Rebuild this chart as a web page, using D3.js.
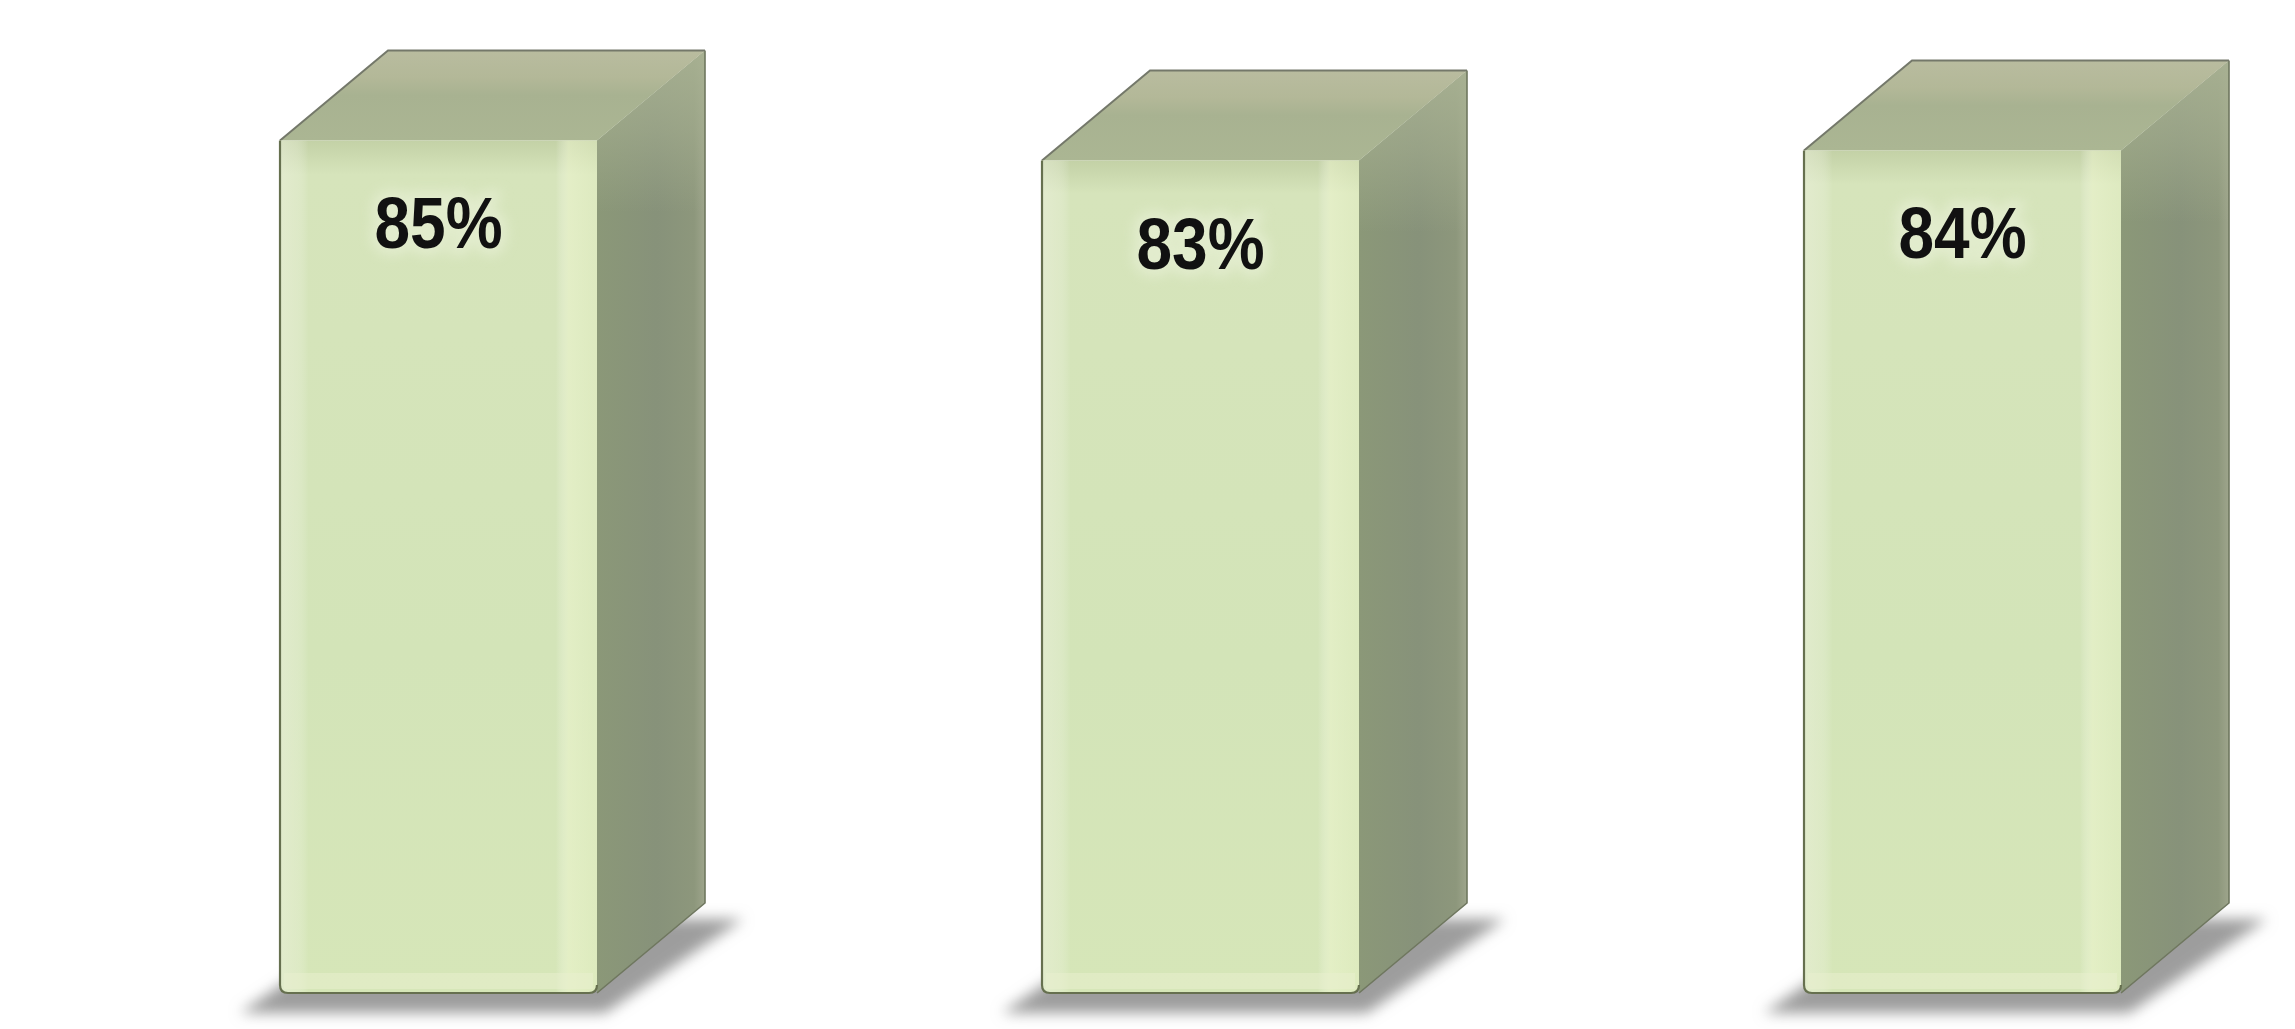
<!DOCTYPE html>
<html>
<head>
<meta charset="utf-8">
<script src="https://cdn.jsdelivr.net/npm/d3@7"></script>
<style>
  html, body { margin: 0; padding: 0; background: #ffffff; overflow: hidden; }
</style>
</head>
<body>
<svg id="chart" width="2295" height="1029"></svg>
<script>
// Data
const categories = ["Group 1", "Group 2", "Group 3"];
const values = [85, 83, 84];
const valueLabels = ["85%", "83%", "84%"];

const W = 2295, H = 1029;
const DX = 108, DY = 90;   // depth of the 3D prism

const svg = d3.select("#chart").attr("width", W).attr("height", H);

const x = d3.scaleBand()
  .domain(categories)
  .range([57.5, 2343.5])
  .paddingInner(0.584)
  .paddingOuter(0.292);

const y = d3.scaleLinear().domain([0, 100]).range([993, -10]);

const defs = svg.append("defs");

// Front face: slightly darker at top where it meets the lid
const gFront = defs.append("linearGradient").attr("id", "gFront")
  .attr("x1", 0).attr("y1", 0).attr("x2", 0).attr("y2", 1);
gFront.append("stop").attr("offset", "0%").attr("stop-color", "#c3d1a6");
gFront.append("stop").attr("offset", "4%").attr("stop-color", "#d6e4bb");
gFront.append("stop").attr("offset", "60%").attr("stop-color", "#d3e4b8");
gFront.append("stop").attr("offset", "100%").attr("stop-color", "#d6e6b8");

// Horizontal sheen on the front face
const gFrontH = defs.append("linearGradient").attr("id", "gFrontH")
  .attr("x1", 0).attr("y1", 0).attr("x2", 1).attr("y2", 0);
gFrontH.append("stop").attr("offset", "0%").attr("stop-color", "#eef2e0").attr("stop-opacity", 0.5);
gFrontH.append("stop").attr("offset", "5%").attr("stop-color", "#eef2e0").attr("stop-opacity", 0.35);
gFrontH.append("stop").attr("offset", "9%").attr("stop-color", "#ffffff").attr("stop-opacity", 0.0);
gFrontH.append("stop").attr("offset", "87%").attr("stop-color", "#ffffff").attr("stop-opacity", 0.0);
gFrontH.append("stop").attr("offset", "91%").attr("stop-color", "#f1f8d2").attr("stop-opacity", 0.5);
gFrontH.append("stop").attr("offset", "100%").attr("stop-color", "#e9f2c8").attr("stop-opacity", 0.4);

// Side face
const gSide = defs.append("linearGradient").attr("id", "gSide")
  .attr("x1", 0).attr("y1", 0).attr("x2", 1).attr("y2", 0);
gSide.append("stop").attr("offset", "0%").attr("stop-color", "#8b9878");
gSide.append("stop").attr("offset", "55%").attr("stop-color", "#87927a");
gSide.append("stop").attr("offset", "90%").attr("stop-color", "#8d977c");
gSide.append("stop").attr("offset", "100%").attr("stop-color", "#9ea58c");

// Lid colour fading down over the side face
const gSideTop = defs.append("linearGradient").attr("id", "gSideTop")
  .attr("x1", 0).attr("y1", 0).attr("x2", 0).attr("y2", 1);
gSideTop.append("stop").attr("offset", "0%").attr("stop-color", "#a9b293").attr("stop-opacity", 0.9);
gSideTop.append("stop").attr("offset", "30%").attr("stop-color", "#a9b293").attr("stop-opacity", 0.5);
gSideTop.append("stop").attr("offset", "60%").attr("stop-color", "#a9b293").attr("stop-opacity", 0);

// Top face
const gTop = defs.append("linearGradient").attr("id", "gTop")
  .attr("x1", 0).attr("y1", 0).attr("x2", 0).attr("y2", 1);
gTop.append("stop").attr("offset", "0%").attr("stop-color", "#b9bc9f");
gTop.append("stop").attr("offset", "30%").attr("stop-color", "#b3b898");
gTop.append("stop").attr("offset", "50%").attr("stop-color", "#a8b291");
gTop.append("stop").attr("offset", "100%").attr("stop-color", "#abb693");

// Shadow blur
defs.append("filter").attr("id", "fShadow")
  .attr("x", "-30%").attr("y", "-60%").attr("width", "160%").attr("height", "220%")
  .append("feGaussianBlur").attr("stdDeviation", 7);

// Soft halo behind the value labels
defs.append("filter").attr("id", "fGlow")
  .attr("x", "-30%").attr("y", "-40%").attr("width", "160%").attr("height", "180%")
  .append("feGaussianBlur").attr("stdDeviation", 6);

const bars = svg.append("g").selectAll("g.bar")
  .data(values.map((v, i) => ({ cat: categories[i], v, label: valueLabels[i] })))
  .join("g").attr("class", "bar");

bars.each(function (d) {
  const g = d3.select(this);
  const x0 = x(d.cat), x1 = x0 + x.bandwidth();
  const yt = y(d.v), yb = y(0);

  // Ground shadow
  g.append("path")
    .attr("d", `M${x0 - 40},${yb + 20} L${x1 + 8},${yb + 20} L${x1 + DX + 38},${yb - DY + 16} L${x0 + DX - 10},${yb - DY + 16} Z`)
    .attr("fill", "#9d9d9d")
    .attr("filter", "url(#fShadow)");

  // Side face
  g.append("path")
    .attr("d", `M${x1},${yt} L${x1 + DX},${yt - DY} L${x1 + DX},${yb - DY} L${x1},${yb} Z`)
    .attr("fill", "url(#gSide)");
  g.append("path")
    .attr("d", `M${x1},${yt} L${x1 + DX},${yt - DY} L${x1 + DX},${yt - DY + 180} L${x1},${yt + 180} Z`)
    .attr("fill", "url(#gSideTop)");
  g.append("path")
    .attr("d", `M${x1 + DX},${yt - DY} L${x1 + DX},${yb - DY} L${x1},${yb}`)
    .attr("fill", "none").attr("stroke", "#6f775f").attr("stroke-width", 1.6);

  // Top face
  g.append("path")
    .attr("d", `M${x0},${yt} L${x0 + DX},${yt - DY} L${x1 + DX},${yt - DY} L${x1},${yt} Z`)
    .attr("fill", "url(#gTop)");
  g.append("path")
    .attr("d", `M${x0},${yt} L${x0 + DX},${yt - DY} L${x1 + DX},${yt - DY}`)
    .attr("fill", "none").attr("stroke", "#74786a").attr("stroke-width", 2);

  // Front face
  const frontPath = `M${x0},${yt} L${x1},${yt} L${x1},${yb - 8} Q${x1},${yb} ${x1 - 8},${yb} L${x0 + 8},${yb} Q${x0},${yb} ${x0},${yb - 8} Z`;
  g.append("path").attr("d", frontPath).attr("fill", "url(#gFront)");
  g.append("path").attr("d", frontPath).attr("fill", "url(#gFrontH)");
  // lighter bottom bevel
  g.append("rect")
    .attr("x", x0 + 4).attr("y", yb - 20).attr("width", x1 - x0 - 8).attr("height", 16)
    .attr("fill", "#e9f0cf").attr("opacity", 0.5);
  // front outline (left and bottom)
  g.append("path")
    .attr("d", `M${x0},${yt} L${x0},${yb - 8} Q${x0},${yb} ${x0 + 8},${yb} L${x1 - 8},${yb} Q${x1},${yb} ${x1},${yb - 8}`)
    .attr("fill", "none").attr("stroke", "#66704f").attr("stroke-width", 2.2);

  // Value label with halo
  const lx = x0 + x.bandwidth() / 2, ly = yt + 108;
  g.append("text")
    .attr("x", lx).attr("y", ly)
    .attr("text-anchor", "middle")
    .attr("font-family", "'Liberation Sans', Arial, sans-serif")
    .attr("font-weight", "bold").attr("font-size", 72)
    .attr("textLength", 128).attr("lengthAdjust", "spacingAndGlyphs")
    .attr("fill", "#eef4df").attr("stroke", "#eef4df").attr("stroke-width", 14)
    .attr("opacity", 0.5).attr("filter", "url(#fGlow)")
    .text(d.label);
  g.append("text")
    .attr("x", lx).attr("y", ly)
    .attr("text-anchor", "middle")
    .attr("font-family", "'Liberation Sans', Arial, sans-serif")
    .attr("font-weight", "bold").attr("font-size", 72)
    .attr("textLength", 128).attr("lengthAdjust", "spacingAndGlyphs")
    .attr("fill", "#111111")
    .text(d.label);
});
</script>
</body>
</html>
